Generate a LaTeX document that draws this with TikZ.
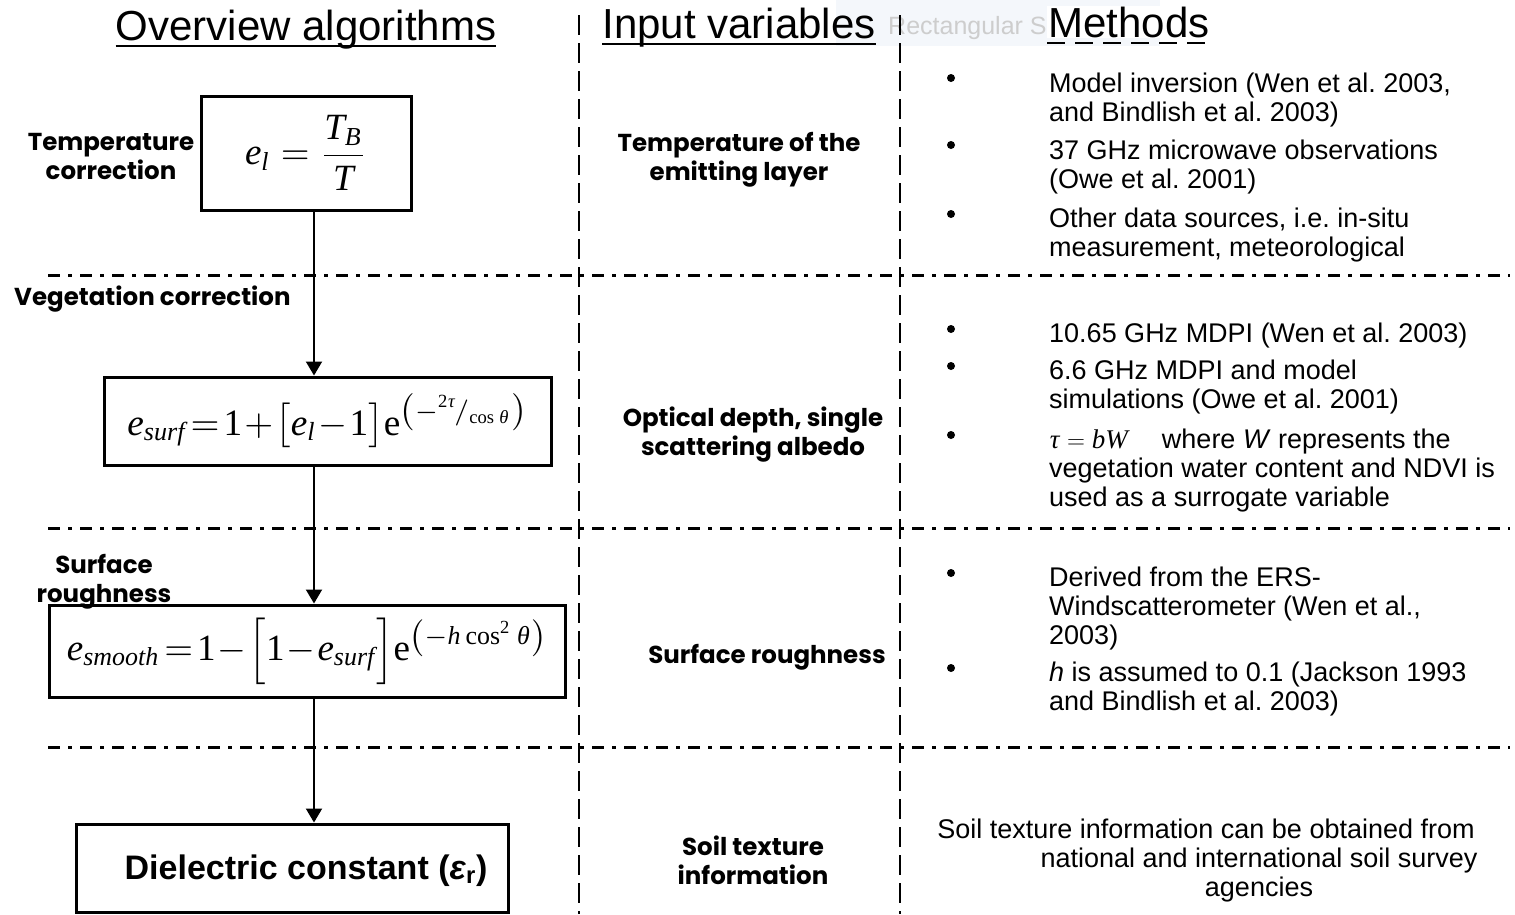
\documentclass[tikz,border=0pt]{standalone}
\usepackage{amsmath}
\usepackage{mathspec}
\setmainfont{Liberation Sans}
\setmathsfont(Digits,Latin,Greek){Liberation Serif}
\setmathrm{Liberation Serif}
\newfontfamily\labfont{Poppins}
\usetikzlibrary{arrows.meta}
\definecolor{faintbg}{RGB}{244,247,251}
\definecolor{fainttx}{RGB}{205,205,205}
\frenchspacing
\tikzset{
  box/.style={draw, line width=3pt, inner sep=0pt},
  flow/.style={line width=2pt, -{Triangle[width=16pt,length=14pt]}},
  vsep/.style={line width=2.5pt, dash pattern=on 20pt off 8pt},
  hsep/.style={line width=3pt, dash pattern=on 12pt off 8pt on 4pt off 8pt},
  head/.style={font=\fontsize{42}{46}\selectfont, anchor=base, inner sep=0pt},
  lab/.style={font=\labfont\bfseries\fontsize{24.5}{29}\selectfont, align=center, anchor=base, inner sep=0pt},
  txt/.style={font=\fontsize{27}{29}\selectfont, align=left, anchor=base west, inner sep=0pt},
  bul/.style={circle, fill, inner sep=0pt, minimum size=8pt},
}
\begin{document}
\begin{tikzpicture}[x=1pt,y=-1pt]
\useasboundingbox (0,0) rectangle (1515,914);
% faint artefact
\fill[faintbg] (836,0) rectangle (1160,46);
\node[anchor=base west, inner sep=0pt, text=fainttx, font=\fontsize{25}{28}\selectfont] (ghost) at (888,34) {Rectangular S};
% headers
\node[head] (h1) at (306,40) {Overview algorithms};
\draw[line width=2.5pt] ([yshift=-6pt]h1.base west) -- ([yshift=-6pt]h1.base east);
\node[head] (h2) at (739,38) {Input variables};
\draw[line width=2.5pt] ([yshift=-6pt]h2.base west) -- ([yshift=-6pt]h2.base east);
\node[head, fill=white, inner sep=1pt] (h3) at (1129,37) {Methods};
\draw[line width=2.5pt, dash pattern=on 18pt off 10pt] ([yshift=-6pt]h3.base west) -- ([yshift=-6pt]h3.base east);
% separators
\draw[vsep] (579,15) -- (579,914);
\draw[vsep] (900,15) -- (900,914);
\draw[hsep] (48,275) -- (1510,275);
\draw[hsep] (48,528) -- (1510,528);
\draw[hsep] (48,747) -- (1510,747);
% boxes
\node[box, minimum width=210pt, minimum height=114pt] (b1) at (306,153)
  {\resizebox{122pt}{!}{$\displaystyle e_l=\frac{T_B}{T}$}};
\node[box, minimum width=447pt, minimum height=88pt] (b2) at (327.5,421)
  {\resizebox{400pt}{!}{$\medmuskip=1mu\thickmuskip=2mu e_{surf}=1+\bigl[e_l-1\bigr]\mathrm{e}^{\left(-{}^{2\tau}\mkern-2mu/{}_{\cos\theta}\right)}$}};
\node[box, minimum width=516pt, minimum height=92pt] (b3) at (307,651)
  {\resizebox{480pt}{!}{$\medmuskip=1mu\thickmuskip=2mu e_{smooth}=1-\Bigl[1-e_{surf}\Bigr]\mathrm{e}^{\left(-h\cos^{2}\theta\right)}$}};
\node[box, minimum width=432pt, minimum height=88pt] (b4) at (292,868) {};
\node[anchor=base, inner sep=0pt, font=\bfseries\fontsize{34}{40}\selectfont] (dc) at (306,879)
  {Dielectric constant (\textit{ε}\textsubscript{r})};
% flow arrows
\coordinate (ax) at (314,0);
\draw[flow] (b1.south -| ax) -- (b2.north -| ax);
\draw[flow] (b2.south -| ax) -- (b3.north -| ax);
\draw[flow] (b3.south -| ax) -- (b4.north -| ax);
% left labels (anchor = baseline of last line)
\node[lab] (l1) at (111,179) {Temperature\\correction};
\node[lab, anchor=base west] (l2) at (14,305) {Vegetation correction};
\node[lab] (l3) at (104,602) {Surface\\roughness};
% middle labels
\node[lab] (m1) at (739,180) {Temperature of the\\emitting layer};
\node[lab] (m2) at (753,455) {Optical depth, single\\scattering albedo};
\node[lab] (m3) at (767,663) {Surface roughness};
\node[lab] (m4) at (753,884) {Soil texture\\information};
% bullets
\node[bul] (p1) at (951,78) {};
\node[bul] (p2) at (951,145) {};
\node[bul] (p3) at (951,214) {};
\node[bul] (p4) at (951,329) {};
\node[bul] (p5) at (951,366) {};
\node[bul] (p6) at (951,435) {};
\node[bul] (p7) at (951,573) {};
\node[bul] (p8) at (951,668) {};
% methods text
\node[txt] (r1) at (1049,121) {Model inversion (Wen et al. 2003,\\and Bindlish et al. 2003)};
\node[txt] (r2) at (1049,188) {37 GHz microwave observations\\(Owe et al. 2001)};
\node[txt] (r3) at (1049,256) {Other data sources, i.e. in-situ\\measurement, meteorological};
\node[txt] (r4) at (1049,342) {10.65 GHz MDPI (Wen et al. 2003)};
\node[txt] (r5) at (1049,408) {6.6 GHz MDPI and model\\simulations (Owe et al. 2001)};
\node[txt] (r6) at (1049,506) {$\tau=bW$\hspace{34pt}where \textit{W} represents the\\vegetation water content and NDVI is\\used as a surrogate variable};
\node[txt] (r7) at (1049,644) {Derived from the ERS-\\Windscatterometer (Wen et al.,\\2003)};
\node[txt] (r8) at (1049,710) {\textit{h} is assumed to 0.1 (Jackson 1993\\and Bindlish et al. 2003)};
\node[txt, align=center, anchor=base] (r9) at (1259,896) {Soil texture information can be obtained from\hspace*{106pt}\\national and international soil survey\\agencies};
\end{tikzpicture}
\end{document}
